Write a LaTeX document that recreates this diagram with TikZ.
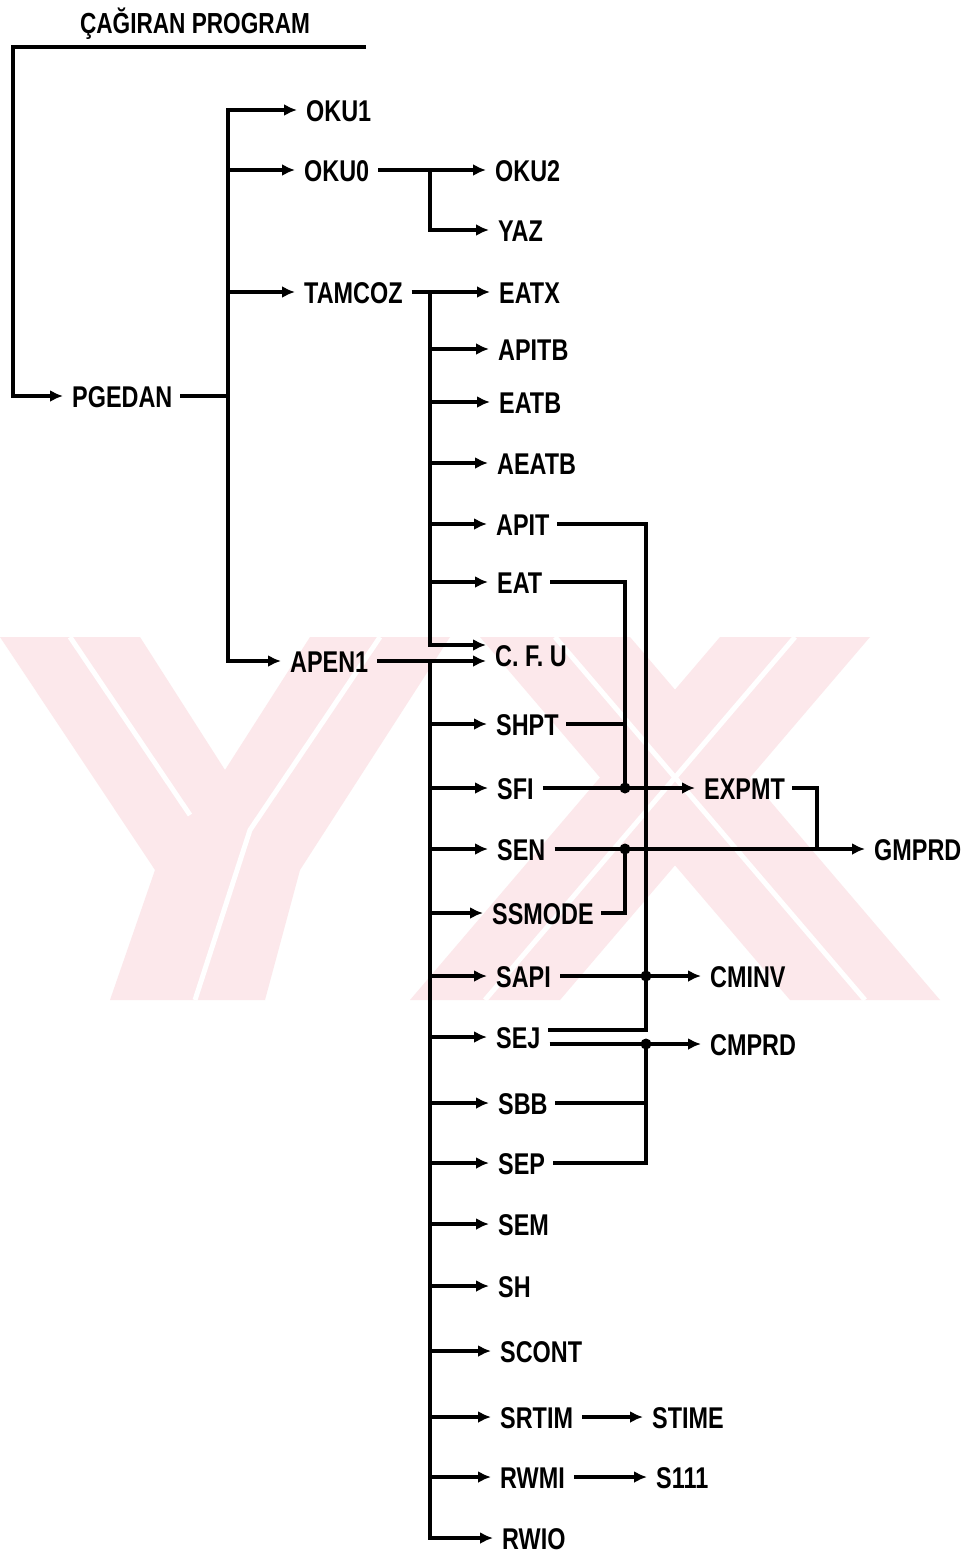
\documentclass[tikz,border=0pt]{standalone}
\usepackage{fontspec}
\newfontfamily\labfont[FakeStretch=0.78]{Liberation Sans}
\usetikzlibrary{arrows.meta}
\definecolor{wmpink}{RGB}{252,232,235}
\begin{document}
\begin{tikzpicture}[x=1pt,y=-1pt,
  ln/.style={line width=3.3pt,line cap=rect},
  arr/.style={line width=3.3pt,-{Latex[length=13pt,width=12pt]}},
  lab/.style={anchor=west,inner xsep=9pt,inner ysep=0pt,text height=22pt,text depth=0pt,
    font=\labfont\bfseries\fontsize{30}{30}\selectfont},
  ttl/.style={anchor=center,inner sep=0pt,text height=21pt,text depth=0pt,
    font=\labfont\bfseries\fontsize{29}{29}\selectfont},
  jdot/.style={circle,fill,inner sep=0pt,minimum size=11pt},
  wm/.style={fill=wmpink,draw=none},
  wmline/.style={draw=white,line width=5pt}]
\useasboundingbox[fill=white] (0,0) rectangle (978,1555);
% watermark
\fill[wm] (0,637) -- (140,637) -- (225,770) -- (310,637) -- (450,637) -- (300,870) -- (265,1000) -- (110,1000) -- (155,870) -- cycle;
\fill[wm] (480,637) -- (630,637) -- (940,1000) -- (790,1000) -- cycle;
\fill[wm] (720,637) -- (870,637) -- (560,1000) -- (410,1000) -- cycle;
\draw[wmline] (70,637) -- (190,815);
\draw[wmline] (380,637) -- (250,830) -- (195,1000);
\draw[wmline] (555,637) -- (865,1000);
\draw[wmline] (795,637) -- (485,1000);
% title
\node[ttl] (title) at (195,23) {ÇAĞIRAN PROGRAM};
% labels
\node[lab] (pgedan) at (63,396) {PGEDAN};
\node[lab] (oku1) at (297,110) {OKU1};
\node[lab] (oku0) at (295,170) {OKU0};
\node[lab] (oku2) at (486,170) {OKU2};
\node[lab] (yaz) at (489,230) {YAZ};
\node[lab] (tamcoz) at (295,292) {TAMCOZ};
\node[lab] (eatx) at (490,292) {EATX};
\node[lab] (apitb) at (489,349) {APITB};
\node[lab] (eatb) at (490,402) {EATB};
\node[lab] (aeatb) at (488,463) {AEATB};
\node[lab] (apit) at (487,524) {APIT};
\node[lab] (eat) at (488,582) {EAT};
\node[lab] (cfu) at (486,655) {C. F. U};
\node[lab] (apen1) at (281,661) {APEN1};
\node[lab] (shpt) at (487,724) {SHPT};
\node[lab] (sfi) at (488,788) {SFI};
\node[lab] (sen) at (488,849) {SEN};
\node[lab] (ssmode) at (483,913) {SSMODE};
\node[lab] (sapi) at (487,976) {SAPI};
\node[lab] (sej) at (487,1037) {SEJ};
\node[lab] (sbb) at (489,1103) {SBB};
\node[lab] (sep) at (489,1163) {SEP};
\node[lab] (sem) at (489,1224) {SEM};
\node[lab] (sh) at (489,1286) {SH};
\node[lab] (scont) at (491,1351) {SCONT};
\node[lab] (srtim) at (491,1417) {SRTIM};
\node[lab] (rwmi) at (491,1477) {RWMI};
\node[lab] (rwio) at (493,1538) {RWIO};
\node[lab] (stime) at (643,1417) {STIME};
\node[lab] (s111) at (647,1477) {S111};
\node[lab] (expmt) at (695,788) {EXPMT};
\node[lab] (gmprd) at (865,849) {GMPRD};
\node[lab] (cminv) at (701,976) {CMINV};
\node[lab] (cmprd) at (701,1044) {CMPRD};
% coordinates
\coordinate (tl) at (13,47);
\coordinate (tr) at (366,47);
\coordinate (b1t) at (228,110);
\coordinate (b1b) at (228,661);
\coordinate (j0) at (430,170);
\coordinate (b2t) at (430,292);
\coordinate (b2b) at (430,645);
\coordinate (b3t) at (430,662);
\coordinate (b3b) at (430,1538);
\coordinate (v1) at (646,0);
\coordinate (v2) at (625,0);
\coordinate (v3) at (817,0);
\coordinate (sejtop) at (0,1030);
\coordinate (sejbot) at (0,1044);
% left part
\draw[arr] (tr) -- (tl) |- (pgedan.west);
\draw[ln] (pgedan.east) -- (pgedan.east -| b1t);
\draw[arr] (b1b) -- (b1t) -- (oku1.west);
\draw[arr] (b1t |- oku0.west) -- (oku0.west);
\draw[arr] (b1t |- tamcoz.west) -- (tamcoz.west);
\draw[arr] (b1t) -- (b1b) -- (apen1.west);
% OKU0
\draw[arr] (oku0.east) -- (oku2.west);
\draw[arr] (j0) |- (yaz.west);
% TAMCOZ
\draw[arr] (tamcoz.east) -- (eatx.west);
\draw[arr] (b2t) -- (b2b) -- (b2b -| cfu.west);
\foreach \n in {apitb,eatb,aeatb,apit,eat}
  \draw[arr] (b2t |- \n.west) -- (\n.west);
% APEN1
\draw[arr] (apen1.east) -- (apen1.east -| cfu.west);
\draw[arr] (b3t) -- (b3b) -- (rwio.west);
\foreach \n in {shpt,sfi,sen,ssmode,sapi,sej,sbb,sep,sem,sh,scont,srtim,rwmi}
  \draw[arr] (b3t |- \n.west) -- (\n.west);
% right side
\draw[ln] (apit.east) -| (v1 |- sejtop) -- (sej.east |- sejtop);
\draw[ln] (eat.east) -| (v2 |- sfi.east);
\draw[ln] (shpt.east) -- (shpt.east -| v2);
\draw[arr] (sfi.east) -- (expmt.west);
\node[jdot] (d1) at (v2 |- sfi.east) {};
\draw[ln] (expmt.east) -| (v3 |- sen.east);
\draw[arr] (sen.east) -- (gmprd.west);
\node[jdot] (d2) at (v2 |- sen.east) {};
\draw[ln] (ssmode.east) -| (d2);
\draw[arr] (sapi.east) -- (cminv.west);
\node[jdot] (d3) at (v1 |- sapi.east) {};
\draw[arr] (sej.east |- sejbot) -- (cmprd.west);
\node[jdot] (d4) at (v1 |- sejbot) {};
\draw[ln] (d4) |- (sep.east);
\draw[ln] (sbb.east) -- (sbb.east -| v1);
\draw[arr] (srtim.east) -- (stime.west);
\draw[arr] (rwmi.east) -- (s111.west);
\end{tikzpicture}
\end{document}
